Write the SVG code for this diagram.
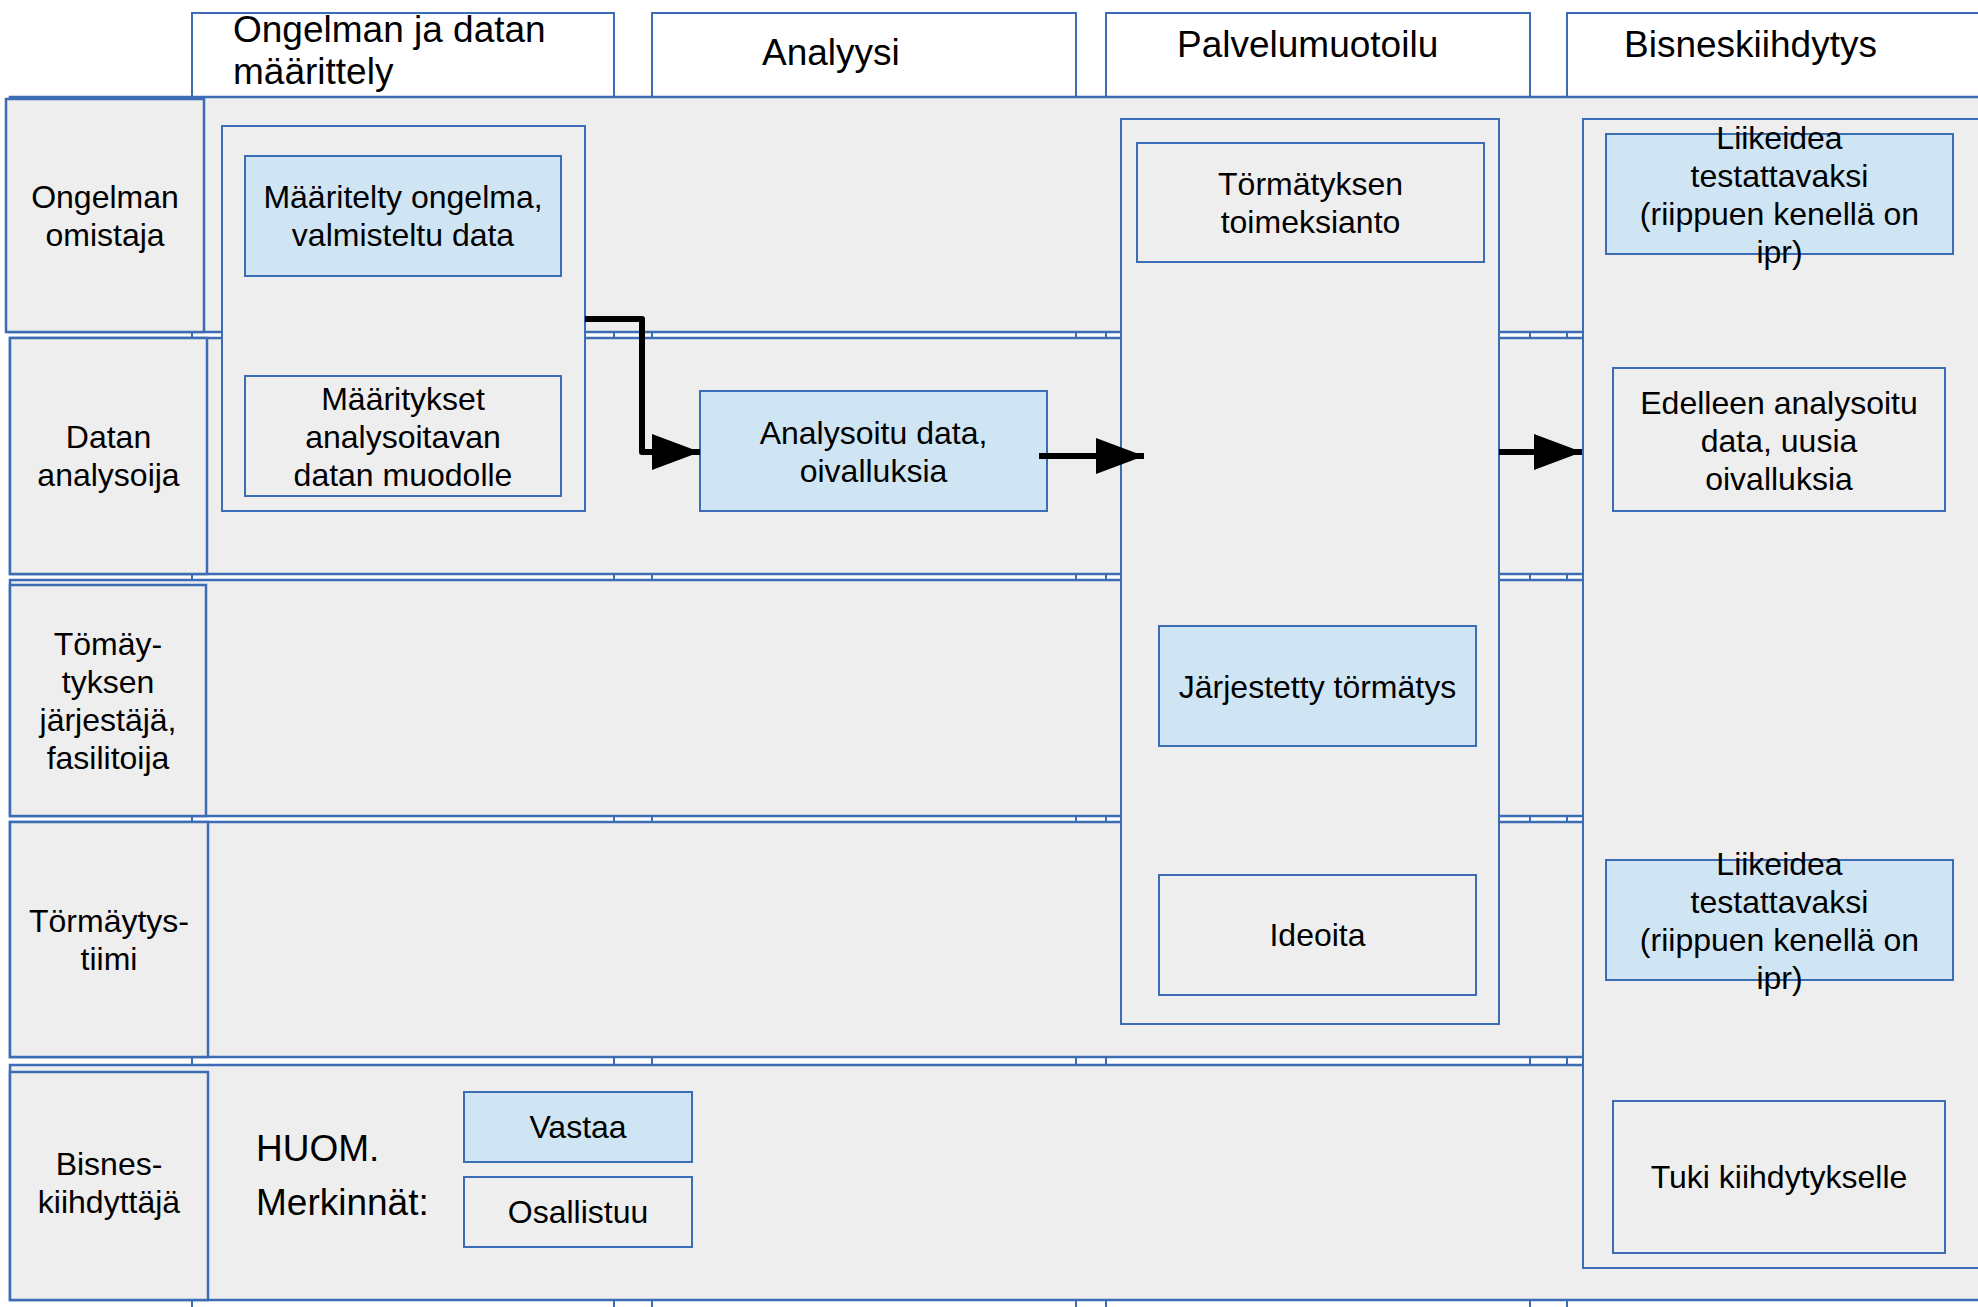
<svg xmlns="http://www.w3.org/2000/svg" width="1978" height="1307" viewBox="0 0 1978 1307">
<defs>
<style>
.col{fill:#ffffff;stroke:#3c6db4;stroke-width:2}
.lane{fill:#eeeeee;stroke:#3c6db4;stroke-width:2.5}
.box{fill:#eeeeee;stroke:#3c6db4;stroke-width:2}
.blue{fill:#cfe5f4;stroke:#3c6db4;stroke-width:2}
.t{font-family:"Liberation Sans",Arial,sans-serif;font-size:32px;fill:#000;text-anchor:middle}
.h{font-family:"Liberation Sans",Arial,sans-serif;font-size:37px;fill:#000}
.conn{fill:none;stroke:#000;stroke-width:6;stroke-linejoin:round}
</style>
<marker id="ah" markerUnits="userSpaceOnUse" markerWidth="48" markerHeight="36" viewBox="0 0 48 36" refX="48" refY="18" orient="auto">
<path d="M0,0 L48,18 L0,36 Z" fill="#000"/>
</marker>
</defs>
<rect x="0" y="0" width="1978" height="1307" fill="#ffffff"/>

<g id="columns">
<g id="col-maarittely">
<rect class="col" x="192" y="13" width="422" height="1310"/>
<text class="h" x="233" y="42">Ongelman ja datan</text>
<text class="h" x="233" y="84">määrittely</text>
</g>
<g id="col-analyysi">
<rect class="col" x="652" y="13" width="424" height="1310"/>
<text class="h" x="762" y="65">Analyysi</text>
</g>
<g id="col-palvelumuotoilu">
<rect class="col" x="1106" y="13" width="424" height="1310"/>
<text class="h" x="1177" y="57">Palvelumuotoilu</text>
</g>
<g id="col-bisneskiihdytys">
<rect class="col" x="1567" y="13" width="430" height="1310"/>
<text class="h" x="1624" y="57">Bisneskiihdytys</text>
</g>
</g>

<g id="lanes">
<g id="lane-ongelman-omistaja">
<rect class="lane" x="10" y="97" width="1990" height="235"/>
<rect class="lane" x="6" y="99" width="198" height="233"/>
<text class="t" x="105" y="208">Ongelman</text>
<text class="t" x="105" y="246">omistaja</text>
</g>
<g id="lane-datan-analysoija">
<rect class="lane" x="10" y="338" width="1990" height="236"/>
<rect class="lane" x="10" y="338" width="197" height="236"/>
<text class="t" x="108.5" y="448">Datan</text>
<text class="t" x="108.5" y="486">analysoija</text>
</g>
<g id="lane-jarjestaja">
<rect class="lane" x="10" y="580" width="1990" height="236"/>
<rect class="lane" x="10" y="585" width="196" height="231"/>
<text class="t" x="108" y="655">Tömäy-</text>
<text class="t" x="108" y="693">tyksen</text>
<text class="t" x="108" y="731">järjestäjä,</text>
<text class="t" x="108" y="769">fasilitoija</text>
</g>
<g id="lane-tormaytystiimi">
<rect class="lane" x="10" y="822" width="1990" height="235"/>
<rect class="lane" x="10" y="822" width="198" height="235"/>
<text class="t" x="109" y="932">Törmäytys-</text>
<text class="t" x="109" y="970">tiimi</text>
</g>
<g id="lane-bisneskiihdyttaja">
<rect class="lane" x="10" y="1065" width="1990" height="235"/>
<rect class="lane" x="10" y="1072" width="198" height="228"/>
<text class="t" x="109" y="1175">Bisnes-</text>
<text class="t" x="109" y="1213">kiihdyttäjä</text>
</g>
</g>

<g id="container-maarittely">
<rect class="box" x="222" y="126" width="363" height="385"/>
</g>
<g id="node-maaritelty-ongelma">
<rect class="blue" x="245" y="156" width="316" height="120"/>
<text class="t" x="403" y="208">Määritelty ongelma,</text>
<text class="t" x="403" y="246">valmisteltu data</text>
</g>
<g id="node-maaritykset">
<rect class="box" x="245" y="376" width="316" height="120"/>
<text class="t" x="403" y="410">Määritykset</text>
<text class="t" x="403" y="448">analysoitavan</text>
<text class="t" x="403" y="486">datan muodolle</text>
</g>
<g id="node-analysoitu-data">
<rect class="blue" x="700" y="391" width="347" height="120"/>
<text class="t" x="873.5" y="444">Analysoitu data,</text>
<text class="t" x="873.5" y="482">oivalluksia</text>
</g>

<g id="container-palvelumuotoilu">
<rect class="box" x="1121" y="119" width="378" height="905"/>
</g>
<g id="node-toimeksianto">
<rect class="box" x="1137" y="143" width="347" height="119"/>
<text class="t" x="1310.5" y="195">Törmätyksen</text>
<text class="t" x="1310.5" y="233">toimeksianto</text>
</g>
<g id="node-jarjestetty-tormatys">
<rect class="blue" x="1159" y="626" width="317" height="120"/>
<text class="t" x="1317.5" y="698">Järjestetty törmätys</text>
</g>
<g id="node-ideoita">
<rect class="box" x="1159" y="875" width="317" height="120"/>
<text class="t" x="1317.5" y="946">Ideoita</text>
</g>

<g id="container-bisneskiihdytys">
<rect class="box" x="1583" y="119" width="420" height="1149"/>
</g>
<g id="node-liikeidea-1">
<rect class="blue" x="1606" y="134" width="347" height="120"/>
<text class="t" x="1779.5" y="149">Liikeidea</text>
<text class="t" x="1779.5" y="187">testattavaksi</text>
<text class="t" x="1779.5" y="225">(riippuen kenellä on</text>
<text class="t" x="1779.5" y="263">ipr)</text>
</g>
<g id="node-edelleen-analysoitu">
<rect class="box" x="1613" y="368" width="332" height="143"/>
<text class="t" x="1779" y="414">Edelleen analysoitu</text>
<text class="t" x="1779" y="452">data, uusia</text>
<text class="t" x="1779" y="490">oivalluksia</text>
</g>
<g id="node-liikeidea-2">
<rect class="blue" x="1606" y="860" width="347" height="120"/>
<text class="t" x="1779.5" y="875">Liikeidea</text>
<text class="t" x="1779.5" y="913">testattavaksi</text>
<text class="t" x="1779.5" y="951">(riippuen kenellä on</text>
<text class="t" x="1779.5" y="989">ipr)</text>
</g>
<g id="node-tuki">
<rect class="box" x="1613" y="1101" width="332" height="152"/>
<text class="t" x="1779" y="1188">Tuki kiihdytykselle</text>
</g>

<g id="legend">
<text class="h" x="256" y="1161">HUOM.</text>
<text class="h" x="256" y="1215">Merkinnät:</text>
<g id="legend-vastaa">
<rect class="blue" x="464" y="1092" width="228" height="70"/>
<text class="t" x="578" y="1138">Vastaa</text>
</g>
<g id="legend-osallistuu">
<rect class="box" x="464" y="1177" width="228" height="70"/>
<text class="t" x="578" y="1223">Osallistuu</text>
</g>
</g>

<g id="connectors">
<path class="conn" d="M585,319 H642 V452 H700" marker-end="url(#ah)"/>
<path class="conn" d="M1039,456 H1144" marker-end="url(#ah)"/>
<path class="conn" d="M1499,452 H1582" marker-end="url(#ah)"/>
</g>
</svg>
